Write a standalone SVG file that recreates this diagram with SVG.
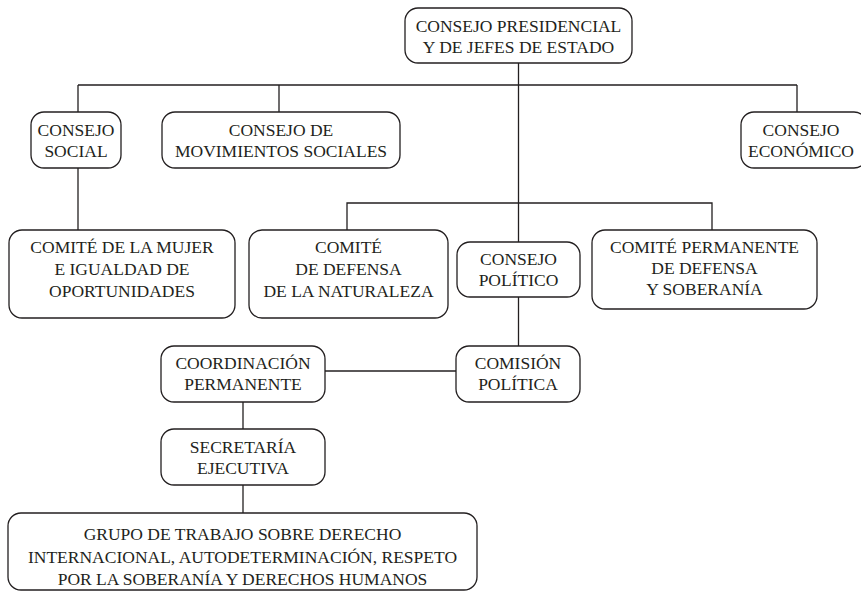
<svg xmlns="http://www.w3.org/2000/svg" width="861" height="592" viewBox="0 0 861 592">
<style>
.box{fill:#fff;stroke:#231f20;stroke-width:1.3}
.ln{fill:none;stroke:#231f20;stroke-width:1.3}
</style>
<rect width="861" height="592" fill="#fff"/>
<g id="connectors">
<path class="ln" d="M518.5,63 V242 M78,85 H797 M78,85 V112 M279,85 V112 M797,85 V112"/>
<path class="ln" d="M78,168 V230"/>
<path class="ln" d="M347,230 V203 H712 V230"/>
<path class="ln" d="M518.5,297 V346"/>
<path class="ln" d="M325,371 H456"/>
<path class="ln" d="M243,402 V429"/>
<path class="ln" d="M243,485 V513"/>
</g>
<g font-family="'Liberation Serif', serif" font-size="17.5" fill="#231f20" text-anchor="middle">
<g id="presidencial">
<rect class="box" x="405" y="8" width="227" height="55" rx="13"/>
<text x="518.5" y="32">CONSEJO PRESIDENCIAL</text>
<text x="518.5" y="53">Y DE JEFES DE ESTADO</text>
</g>
<g id="social">
<rect class="box" x="31" y="112" width="90" height="56" rx="13"/>
<text x="76" y="136">CONSEJO</text>
<text x="76" y="157">SOCIAL</text>
</g>
<g id="movimientos">
<rect class="box" x="162" y="112" width="238" height="56" rx="13"/>
<text x="281" y="136">CONSEJO DE</text>
<text x="281" y="157">MOVIMIENTOS SOCIALES</text>
</g>
<g id="economico">
<rect class="box" x="741" y="112" width="126" height="56" rx="13"/>
<text x="801" y="136">CONSEJO</text>
<text x="801" y="157">ECONÓMICO</text>
</g>
<g id="mujer">
<rect class="box" x="9" y="230" width="226" height="88" rx="13"/>
<text x="122" y="253">COMITÉ DE LA MUJER</text>
<text x="122" y="275">E IGUALDAD DE</text>
<text x="122" y="297">OPORTUNIDADES</text>
</g>
<g id="naturaleza">
<rect class="box" x="249" y="230" width="199" height="88" rx="13"/>
<text x="348.5" y="253">COMITÉ</text>
<text x="348.5" y="275">DE DEFENSA</text>
<text x="348.5" y="297">DE LA NATURALEZA</text>
</g>
<g id="politico">
<rect class="box" x="457" y="242" width="123" height="55" rx="13"/>
<text x="518.5" y="265">CONSEJO</text>
<text x="518.5" y="286">POLÍTICO</text>
</g>
<g id="soberania">
<rect class="box" x="592" y="230" width="225" height="79" rx="13"/>
<text x="704.5" y="253">COMITÉ PERMANENTE</text>
<text x="704.5" y="274">DE DEFENSA</text>
<text x="704.5" y="295">Y SOBERANÍA</text>
</g>
<g id="coordinacion">
<rect class="box" x="161" y="346" width="164" height="56" rx="13"/>
<text x="243" y="369">COORDINACIÓN</text>
<text x="243" y="390">PERMANENTE</text>
</g>
<g id="comision">
<rect class="box" x="456" y="346" width="124" height="56" rx="13"/>
<text x="518" y="369">COMISIÓN</text>
<text x="518" y="390">POLÍTICA</text>
</g>
<g id="secretaria">
<rect class="box" x="161" y="429" width="164" height="56" rx="13"/>
<text x="243" y="453">SECRETARÍA</text>
<text x="243" y="474">EJECUTIVA</text>
</g>
<g id="grupo">
<rect class="box" x="8" y="513" width="469" height="77" rx="13"/>
<text x="242.5" y="540">GRUPO DE TRABAJO SOBRE DERECHO</text>
<text x="242.5" y="563">INTERNACIONAL, AUTODETERMINACIÓN, RESPETO</text>
<text x="242.5" y="585">POR LA SOBERANÍA Y DERECHOS HUMANOS</text>
</g>
</g>
</svg>
